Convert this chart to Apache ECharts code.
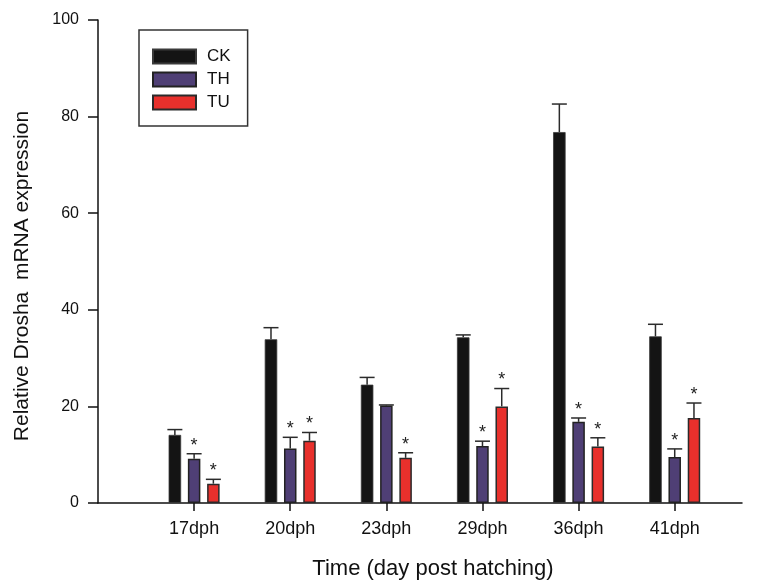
<!DOCTYPE html>
<html>
<head>
<meta charset="utf-8">
<script src="https://cdn.jsdelivr.net/npm/echarts@6/dist/echarts.min.js"></script>
<style>
  html, body { margin: 0; padding: 0; background: #fff; }
  #chart { width: 762px; height: 585px; }
</style>
</head>
<body>
<div id="chart"></div>
<script>
// data
const days = ['17dph', '20dph', '23dph', '29dph', '36dph', '41dph']
const ck = [14.1, 33.9, 24.5, 34.3, 76.8, 34.5]
const ckErr = [1.1, 2.4, 1.5, 0.5, 5.8, 2.5]
const th = [9.15, 11.3, 20.2, 11.8, 16.8, 9.5]
const thErr = [1.05, 2.3, 0.1, 1.0, 0.8, 1.7]
const tu = [4.0, 12.9, 9.35, 20.0, 11.7, 17.6]
const tuErr = [0.9, 1.7, 1.05, 3.7, 1.8, 3.1]
// significance stars (1 = marked)
const thStar = [1, 1, 0, 1, 1, 1]
const tuStar = [1, 1, 1, 1, 1, 1]
const yTicks = [0, 20, 40, 60, 80, 100]

const FONT = 'Liberation Sans, Arial, sans-serif'
const BAR_W = 12.5
const OFFSETS = [-19.25, 0, 19.25]

const chart = echarts.init(document.getElementById('chart'))

// position i+1 on the x value axis
const toPts = arr => arr.map((v, i) => [i + 1, v])

// error bar rows: [x, value, err, seriesIndex, star]
const errRows = []
;[[ck, ckErr, null], [th, thErr, thStar], [tu, tuErr, tuStar]].forEach((grp, s) => {
  grp[0].forEach((v, i) => {
    errRows.push([i + 1, v, grp[1][i], s, grp[2] ? grp[2][i] : 0])
  })
})

function renderErr(params, api) {
  const x = api.value(0)
  const v = api.value(1)
  const e = api.value(2)
  const s = api.value(3)
  const star = api.value(4)
  const top = api.coord([x, v])
  const cap = api.coord([x, v + e])
  const cx = top[0] + OFFSETS[s]
  const style = { stroke: '#2b2b2b', lineWidth: 1.5 }
  const children = [
    { type: 'line', shape: { x1: cx, y1: top[1], x2: cx, y2: cap[1] }, style },
    { type: 'line', shape: { x1: cx - 7.5, y1: cap[1], x2: cx + 7.5, y2: cap[1] }, style }
  ]
  if (star) {
    children.push({
      type: 'text',
      x: cx, y: cap[1] + 1,
      style: { text: '*', fill: '#222', font: '18px ' + FONT, align: 'center', verticalAlign: 'bottom' }
    })
  }
  return { type: 'group', children }
}

const option = {
  animation: false,
  backgroundColor: '#fff',
  grid: { left: 98, right: 20, top: 20, bottom: 82 },
  legend: {
    data: ['CK', 'TH', 'TU'],
    orient: 'vertical',
    left: 139,
    top: 30,
    padding: [18, 17, 15, 13],
    borderColor: '#333',
    borderWidth: 1.5,
    itemWidth: 43,
    itemHeight: 14,
    itemGap: 6,
    icon: 'rect',
    textStyle: { fontFamily: FONT, fontSize: 17, color: '#111', lineHeight: 14, padding: [0, 0, 0, 6] }
  },
  xAxis: {
    type: 'value',
    min: 0,
    max: 6.7,
    interval: 1,
    splitLine: { show: false },
    axisLine: { show: true, lineStyle: { color: '#111', width: 1.5 } },
    axisTick: { show: true, length: 8, customValues: [1, 2, 3, 4, 5, 6], lineStyle: { color: '#111', width: 1.5 } },
    axisLabel: {
      customValues: [1, 2, 3, 4, 5, 6],
      formatter: v => days[Math.round(v) - 1] || '',
      fontFamily: FONT, fontSize: 18, color: '#111', margin: 17
    }
  },
  yAxis: {
    type: 'value',
    min: 0,
    max: 100,
    interval: 20,
    splitLine: { show: false },
    axisLine: { show: true, lineStyle: { color: '#111', width: 1.5 } },
    axisTick: { show: true, length: 10, lineStyle: { color: '#111', width: 1.5 } },
    axisLabel: {
      formatter: v => yTicks.includes(v) ? String(v) : '',
      fontFamily: FONT, fontSize: 16, color: '#111', margin: 19
    }
  },
  graphic: [
    {
      type: 'text', x: 433, y: 569,
      style: { text: 'Time (day post hatching)', font: '22px ' + FONT, fill: '#111', align: 'center', verticalAlign: 'middle' }
    },
    {
      type: 'text', x: 22, y: 276, rotation: Math.PI / 2,
      style: { text: 'Relative Drosha  mRNA expression', font: '21px ' + FONT, fill: '#111', align: 'center', verticalAlign: 'middle' }
    }
  ],
  series: [
    {
      name: 'CK', type: 'bar', data: toPts(ck), barWidth: BAR_W, barGap: '54%',
      itemStyle: { color: '#141414', borderColor: '#3a3a3a', borderWidth: 0.8 }
    },
    {
      name: 'TH', type: 'bar', data: toPts(th), barWidth: BAR_W, barGap: '54%',
      itemStyle: { color: '#4f3f75', borderColor: '#222', borderWidth: 1.5 }
    },
    {
      name: 'TU', type: 'bar', data: toPts(tu), barWidth: BAR_W, barGap: '54%',
      itemStyle: { color: '#e8302c', borderColor: '#2a2a2a', borderWidth: 1.5 }
    },
    {
      name: 'err', type: 'custom', data: errRows, renderItem: renderErr,
      encode: { x: 0, y: 1 }, z: 5, silent: true
    }
  ]
}

chart.setOption(option)
</script>
</body>
</html>
